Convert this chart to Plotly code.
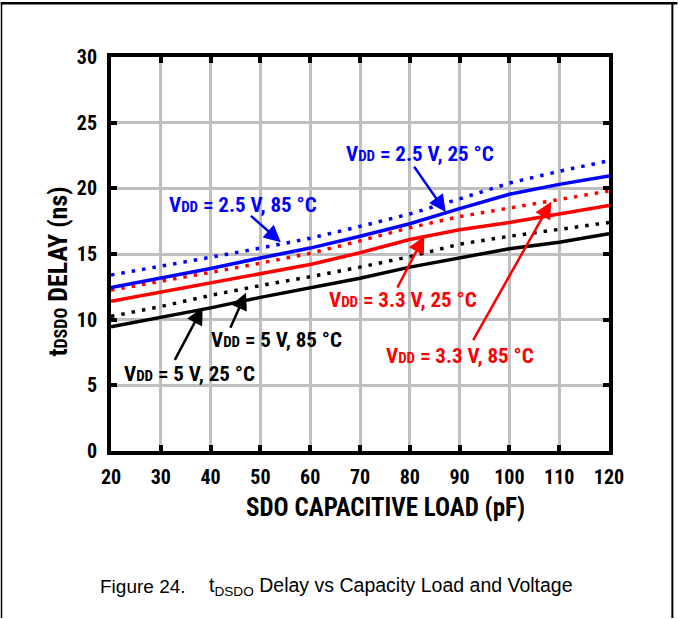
import plotly.graph_objects as go

# ---------------- data ----------------
cap_pf = [20, 30, 40, 50, 60, 70, 80, 90, 100, 110, 120]

vdd25_t25 = [12.45, 13.15, 13.9, 14.7, 15.45, 16.35, 17.3, 18.45, 19.55, 20.3, 20.95]
vdd25_t85 = [13.4, 14.05, 14.75, 15.45, 16.2, 17.1, 18.05, 19.2, 20.4, 21.3, 22.1]
vdd33_t25 = [11.4, 12.1, 12.8, 13.55, 14.2, 15.1, 16.1, 16.85, 17.4, 18.05, 18.7]
vdd33_t85 = [12.25, 12.9, 13.6, 14.3, 15.05, 16.0, 17.0, 17.85, 18.5, 19.2, 19.8]
vdd5_t25 = [9.45, 10.15, 10.9, 11.7, 12.4, 13.15, 14.0, 14.7, 15.4, 15.9, 16.55]
vdd5_t85 = [10.25, 11.0, 11.85, 12.6, 13.27, 14.0, 14.8, 15.75, 16.35, 16.85, 17.4]

x_ticks = [20, 30, 40, 50, 60, 70, 80, 90, 100, 110, 120]
y_ticks = [0, 5, 10, 15, 20, 25, 30]

series_labels = [
    "V<span style='font-size:15px'>DD</span> = 2.5 V, 25 °C",
    "V<span style='font-size:15px'>DD</span> = 2.5 V, 85 °C",
    "V<span style='font-size:15px'>DD</span> = 3.3 V, 25 °C",
    "V<span style='font-size:15px'>DD</span> = 3.3 V, 85 °C",
    "V<span style='font-size:15px'>DD</span> = 5 V, 85 °C",
    "V<span style='font-size:15px'>DD</span> = 5 V, 25 °C",
]
x_title = "SDO CAPACITIVE LOAD (pF)"
y_title = "t<span style='font-size:18px'>DSDO</span> DELAY (ns)"
caption_fig = "Figure 24."
caption_txt = "t<sub>DSDO</sub> Delay vs Capacity Load and Voltage"

# ---------------- layout helpers ----------------
W, H = 678, 619
L, R, T, B = 110.5, 68.5, 56.5, 167.5
PW, PH = W - L - R, H - T - B


def pxp(x):
    return (x - L) / PW


def pyp(y):
    return (H - B - y) / PH


NARROW = "Liberation Sans Narrow, Arial Narrow, Roboto Condensed, DejaVu Sans Condensed, sans-serif"
REG = "Liberation Sans, Arial, Helvetica, sans-serif"
BLUE, RED, BLACK = "#0000ff", "#ff0000", "#000000"
DOT = "3.5px,7px"

fig = go.Figure()
traces = [
    (vdd5_t25, BLACK, "solid"),
    (vdd5_t85, BLACK, DOT),
    (vdd33_t25, RED, "solid"),
    (vdd33_t85, RED, DOT),
    (vdd25_t85, BLUE, DOT),
    (vdd25_t25, BLUE, "solid"),
]
for vals, col, dash in traces:
    fig.add_trace(go.Scatter(x=cap_pf, y=vals, mode="lines",
                             line=dict(color=col, width=3.5, dash=dash),
                             showlegend=False, hoverinfo="skip"))

# label text centre (data), arrow tail (data), arrow tip (data), colour
ann_specs = [
    (series_labels[0], BLUE, (82.1, 22.6), (80.6, 21.8), (87.2, 18.2)),
    (series_labels[1], BLUE, (46.5, 18.76), (47.8, 18.0), (54.1, 15.9)),
    (series_labels[2], RED, (78.7, 11.47), (77.3, 12.3), (82.9, 16.35)),
    (series_labels[3], RED, (90.1, 7.26), (92.5, 8.29), (108.4, 18.98)),
    (series_labels[4], BLACK, (53.3, 8.46), (43.8, 9.23), (47.1, 12.05)),
    (series_labels[5], BLACK, (35.8, 5.9), (32.6, 6.78), (38.4, 10.92)),
]
annotations = []
for text, col, (tx, ty), (ax, ay), (hx, hy) in ann_specs:
    annotations.append(dict(x=tx, y=ty, xref="x", yref="y", text=text, showarrow=False,
                            font=dict(family=NARROW, size=21, color=col, weight="bold"),
                            xanchor="center", yanchor="middle"))
    annotations.append(dict(x=hx, y=hy, ax=ax, ay=ay, xref="x", yref="y", axref="x", ayref="y",
                            text=" ", showarrow=True, arrowhead=2, arrowsize=1.35,
                            arrowwidth=2.5, arrowcolor=col, standoff=0, startstandoff=0,
                            font=dict(size=1)))

annotations += [
    dict(x=pxp(386), y=pyp(508), xref="paper", yref="paper", text=x_title, showarrow=False,
         font=dict(family=NARROW, size=25, color=BLACK, weight="bold"),
         xanchor="center", yanchor="middle"),
    dict(x=pxp(57), y=pyp(272), xref="paper", yref="paper", text=y_title, showarrow=False,
         textangle=-90, font=dict(family=NARROW, size=26, color=BLACK, weight="bold"),
         xanchor="center", yanchor="middle"),
    dict(x=pxp(97), y=pyp(587), xref="paper", yref="paper", text=caption_fig, showarrow=False,
         font=dict(family=REG, size=19, color=BLACK), xanchor="left", yanchor="middle"),
    dict(x=pxp(207), y=pyp(587), xref="paper", yref="paper", text=caption_txt, showarrow=False,
         font=dict(family=REG, size=19.5, color=BLACK), xanchor="left", yanchor="middle"),
]

shapes = [
    dict(type="line", xref="paper", yref="paper", x0=pxp(0), x1=pxp(W), y0=pyp(2.5), y1=pyp(2.5),
         line=dict(color=BLACK, width=2.5)),
    dict(type="line", xref="paper", yref="paper", x0=pxp(0.8), x1=pxp(0.8), y0=pyp(2), y1=pyp(H),
         line=dict(color=BLACK, width=1.5)),
    dict(type="line", xref="paper", yref="paper", x0=pxp(673), x1=pxp(673), y0=pyp(2), y1=pyp(H),
         line=dict(color=BLACK, width=2)),
]

axis_common = dict(showline=True, linecolor=BLACK, linewidth=4, mirror="ticks",
                   ticks="inside", ticklen=6, tickwidth=4, tickcolor=BLACK,
                   showgrid=True, gridcolor="#bfbfbf", gridwidth=3, zeroline=False,
                   tickfont=dict(family=NARROW, size=20, color=BLACK, weight="bold"))

fig.update_layout(
    width=W, height=H, autosize=False,
    margin=dict(l=L, r=R, t=T, b=B, pad=0),
    paper_bgcolor="white", plot_bgcolor="white",
    xaxis=dict(range=[20, 120], tickmode="array", tickvals=x_ticks,
               ticktext=[str(v) for v in x_ticks], ticklabelstandoff=5, **axis_common),
    yaxis=dict(range=[0, 30], tickmode="array", tickvals=y_ticks,
               ticktext=[str(v) for v in y_ticks], ticklabelstandoff=6, **axis_common),
    annotations=annotations,
    shapes=shapes,
    showlegend=False,
)

fig.write_html("out.html", config={"displayModeBar": False, "staticPlot": True},
               post_script="document.body.style.margin='0';document.body.style.overflow='hidden';")
